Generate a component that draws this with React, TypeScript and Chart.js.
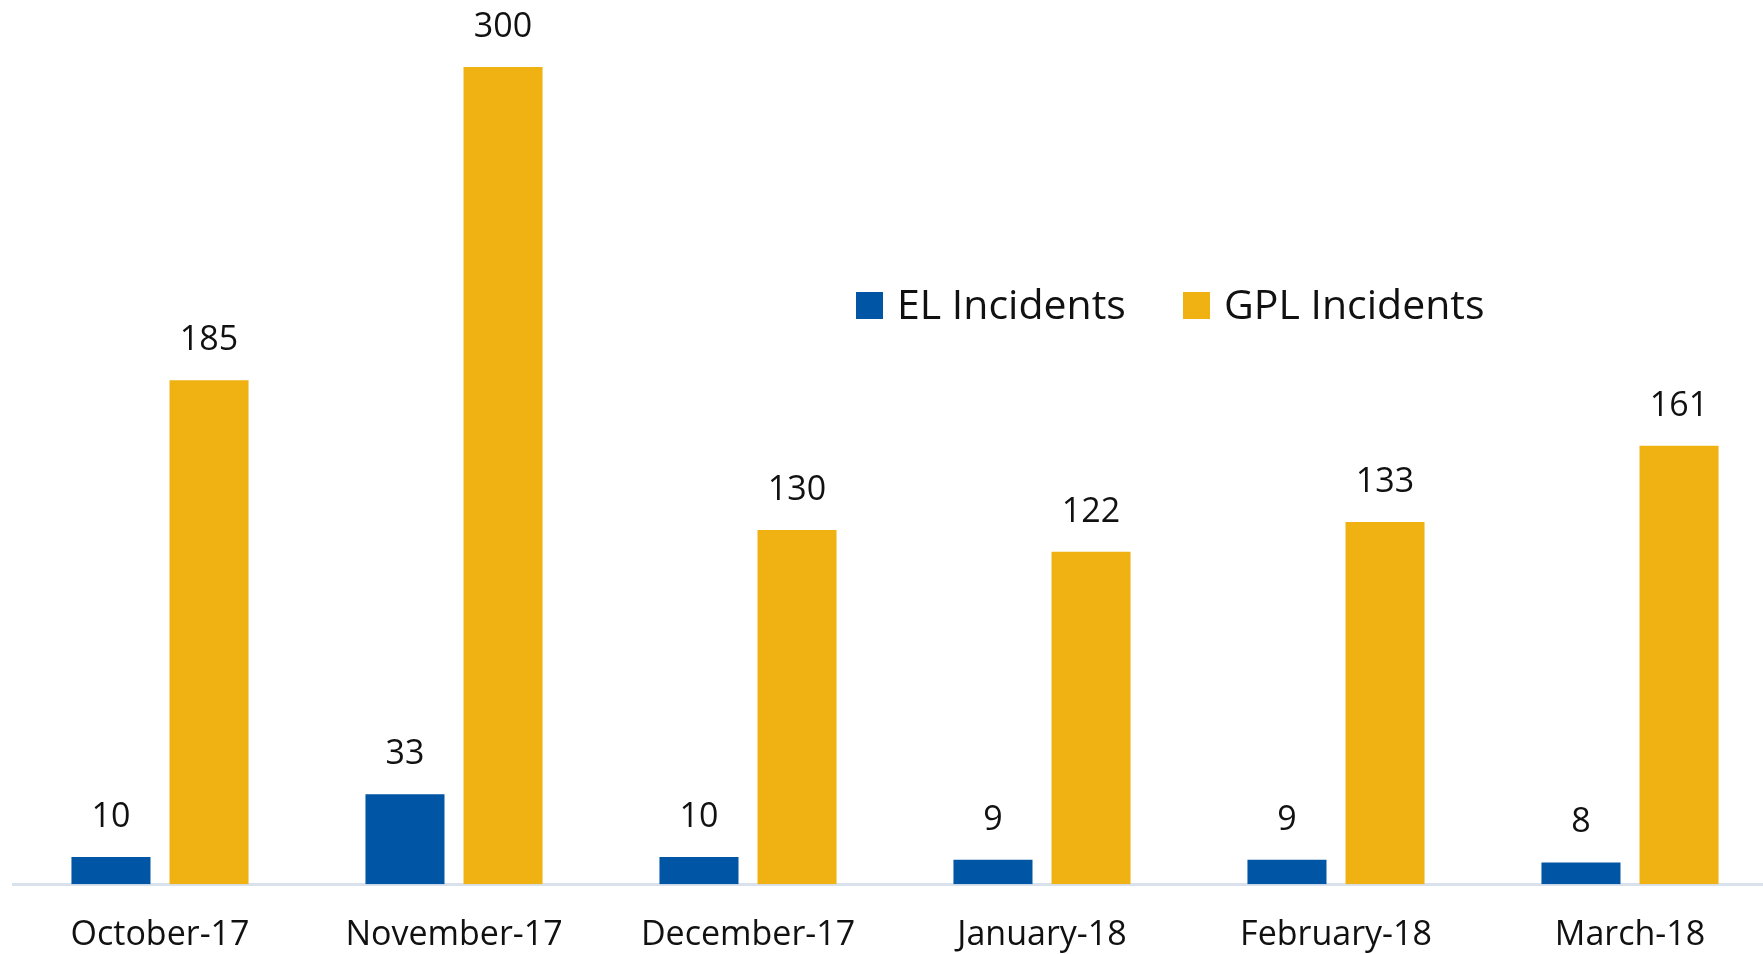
import React, { useEffect, useRef } from 'react';
import { Chart, registerables } from 'chart.js';

Chart.register(...registerables);

const categories = ['October-17', 'November-17', 'December-17', 'January-18', 'February-18', 'March-18'];
const elIncidents = [10, 33, 10, 9, 9, 8];
const gplIncidents = [185, 300, 130, 122, 133, 161];
const seriesNames = ['EL Incidents', 'GPL Incidents'];
const seriesColors = ['#0055A4', '#EFB212'];
const yMax = 300;

const FONT = '"Open Sans", "Noto Sans", sans-serif';
const TEXT_COLOR = '#111111';

const valueLabelPlugin = {
  id: 'valueLabels',
  afterDatasetsDraw(chart: any) {
    const { ctx } = chart;
    ctx.save();
    ctx.font = `34px ${FONT}`;
    ctx.fillStyle = TEXT_COLOR;
    ctx.textAlign = 'center';
    ctx.textBaseline = 'alphabetic';
    chart.data.datasets.forEach((ds: any, di: number) => {
      const meta = chart.getDatasetMeta(di);
      meta.data.forEach((bar: any, i: number) => {
        ctx.fillText(String(ds.data[i]), bar.x, bar.y - 30);
      });
    });
    ctx.restore();
  },
};

const legendItemX = [856, 1183];

const innerLegendPlugin = {
  id: 'innerLegend',
  afterDraw(chart: any) {
    const { ctx } = chart;
    ctx.save();
    ctx.font = `41px ${FONT}`;
    ctx.textBaseline = 'alphabetic';
    ctx.textAlign = 'left';
    chart.data.datasets.forEach((ds: any, di: number) => {
      const x = legendItemX[di];
      ctx.fillStyle = ds.backgroundColor;
      ctx.fillRect(x, 292, 27, 27);
      ctx.fillStyle = TEXT_COLOR;
      ctx.fillText(ds.label, x + 41, 319);
    });
    ctx.restore();
  },
};

function BarChart() {
  const ref = useRef<HTMLCanvasElement | null>(null);

  useEffect(() => {
    if (!ref.current) return;
    const chart = new Chart(ref.current, {
      type: 'bar',
      data: {
        labels: categories,
        datasets: [
          {
            label: seriesNames[0],
            data: elIncidents,
            backgroundColor: seriesColors[0],
            borderWidth: 0,
            categoryPercentage: 0.667,
            barPercentage: 0.806,
          },
          {
            label: seriesNames[1],
            data: gplIncidents,
            backgroundColor: seriesColors[1],
            borderWidth: 0,
            categoryPercentage: 0.667,
            barPercentage: 0.806,
          },
        ],
      },
      options: {
        responsive: false,
        animation: false,
        devicePixelRatio: 1,
        layout: { padding: { left: 13, right: 13, top: 67, bottom: 0 } },
        plugins: {
          legend: { display: false },
          tooltip: { enabled: false },
          title: { display: false },
        },
        scales: {
          x: {
            grid: { display: false, drawTicks: false },
            border: { display: true, color: '#D9E1EC', width: 3 },
            ticks: {
              color: TEXT_COLOR,
              font: { family: FONT, size: 34, lineHeight: 1.2 },
              padding: 31,
              maxRotation: 0,
              autoSkip: false,
            },
          },
          y: {
            display: false,
            min: 0,
            max: yMax,
          },
        },
      },
      plugins: [valueLabelPlugin, innerLegendPlugin],
    });
    return () => chart.destroy();
  }, []);

  return <canvas ref={ref} width={1790} height={987} style={{ display: 'block' }} />;
}

export default function App() {
  return (
    <div
      style={{
        position: 'fixed',
        left: 0,
        top: 0,
        width: 1763,
        height: 954,
        overflow: 'hidden',
        background: '#ffffff',
      }}
    >
      <BarChart />
    </div>
  );
}
